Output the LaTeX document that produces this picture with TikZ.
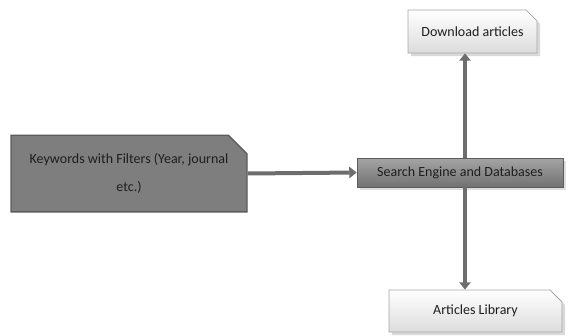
\documentclass[tikz,border=0pt]{standalone}
\usepackage{fontspec}
\setmainfont{Carlito}
\usetikzlibrary{shapes.misc,shadows,arrows.meta}

\definecolor{boxdark}{HTML}{7E7E7E}
\definecolor{boxline}{HTML}{5C5C5C}
\definecolor{boxlight}{HTML}{DCDCDC}
\definecolor{arrowgray}{HTML}{6D6D6D}
\definecolor{txt}{HTML}{1E1E1E}

\tikzset{
  clipbox/.style={chamfered rectangle, chamfered rectangle corners=north east,
    chamfered rectangle xsep=7pt, chamfered rectangle ysep=7pt,
    inner sep=0pt, align=center, text=txt, font=\fontsize{10.5}{21}\selectfont},
  darkbox/.style={clipbox, draw=boxline, line width=1pt, fill=boxdark},
  midbox/.style={draw=boxline, line width=0.6pt, top color=boxdark!70!white,
    bottom color=boxdark!90!black, inner sep=0pt, text=txt,
    font=\fontsize{10.5}{13}\selectfont, drop shadow={opacity=0.25}},
  lightbox/.style={clipbox, chamfered rectangle xsep=4.5pt, chamfered rectangle ysep=4.5pt,
    draw=gray!70, line width=0.6pt, top color=white, bottom color=boxlight,
    drop shadow={opacity=0.3}},
  arr/.style={draw=arrowgray, line width=3pt, -{Triangle[length=5.5pt,width=8.5pt]}}
}

\begin{document}
\begin{tikzpicture}[x=0.75pt,y=-0.75pt]
\useasboundingbox (0,0) rectangle (569,336);

\node[darkbox, minimum width=177pt, minimum height=57.5pt] (kw) at (129,173.5)
  {Keywords with Filters (Year, journal\\etc.)};
\node[midbox, minimum width=154.5pt, minimum height=21.75pt] (search) at (460,172.5)
  {Search Engine and Databases};
\node[lightbox, minimum width=96.75pt, minimum height=32.25pt] (dl) at (472.5,31.5)
  {Download articles};
\node[lightbox, minimum width=129.75pt, minimum height=31.5pt] (lib) at (475.5,311)
  {Articles Library};

% connectors
\draw[arr] (kw.east) -- (search.west);
\draw[arr] ([xshift=3.75pt]search.north) -- ([xshift=3.75pt]search.north |- dl.south);
\draw[arr] ([xshift=3.75pt]search.south) -- ([xshift=3.75pt]search.south |- lib.north);
\end{tikzpicture}
\end{document}
